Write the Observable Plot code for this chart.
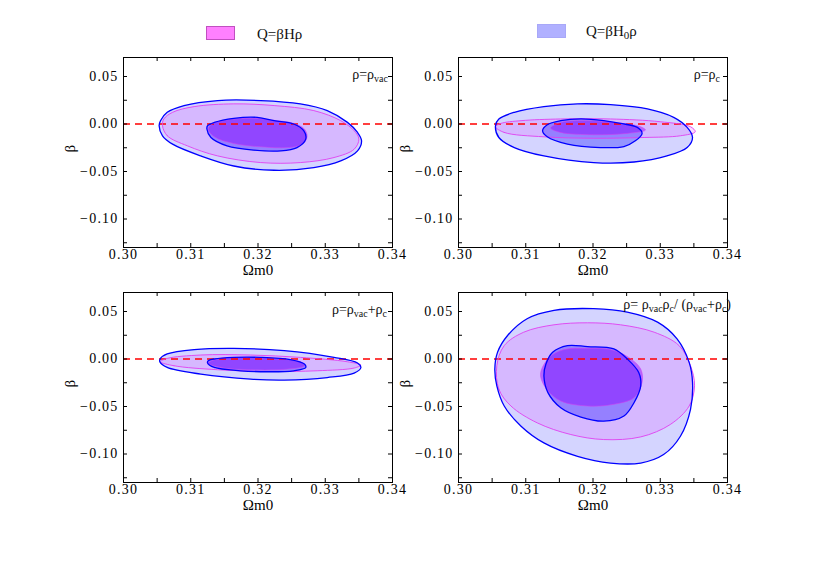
<!DOCTYPE html>
<html><head><meta charset="utf-8">
<script src="https://cdn.jsdelivr.net/npm/d3@7"></script>
<script src="https://cdn.jsdelivr.net/npm/@observablehq/plot@0.6"></script>
<style>
body{margin:0;background:#fff;}
#wrap{position:relative;width:817px;height:574px;overflow:hidden;font-family:"Liberation Serif","DejaVu Serif",serif;color:#111;}
.panel{position:absolute;}
.panel svg{overflow:visible;}
.panel g[aria-label="x-axis tick label"] text,.panel g[aria-label="y-axis tick label"] text{letter-spacing:1.2px;}
.note{position:absolute;font-size:14px;white-space:nowrap;line-height:14px;}
.note sub{font-size:10px;vertical-align:-3px;line-height:0;}
.sw{position:absolute;box-sizing:border-box;}
.lg{position:absolute;font-size:15px;white-space:nowrap;line-height:16px;}
.lg sub{font-size:11px;vertical-align:-3px;line-height:0;}
</style></head>
<body><div id="wrap"></div>
<script>
// ---- tick values ----
const xTicks = [0.30, 0.31, 0.32, 0.33, 0.34];
const xMinor = [0.305, 0.31, 0.315, 0.32, 0.325, 0.33, 0.335];
const yTicks = [-0.10, -0.05, 0.00, 0.05];
const yMinor = [-0.125, -0.10, -0.075, -0.05, -0.025, 0.00, 0.025, 0.05];
const xLabel = "Ωm0";
const yLabel = "β";

// ---- contours [Ωm0, β] ----  rho = rho_vac
const vacBlueOuter = [[.3053,-.0018],[.3058,-.0124],[.3073,-.0212],[.3115,-.0336],[.3164,-.0442],[.3224,-.0487],[.3283,-.0460],[.3323,-.0389],[.3348,-.0283],[.3354,-.0177],[.3348,-.0089],[.3333,.0017],[.3303,.0141],[.3263,.0212],[.3204,.0247],[.3140,.0247],[.3090,.0194],[.3065,.0123],[.3055,.0035]];
const vacPinkOuter = [[.3058,-.0018],[.3065,-.0124],[.3095,-.0230],[.3140,-.0336],[.3204,-.0406],[.3263,-.0406],[.3313,-.0353],[.3343,-.0265],[.3350,-.0159],[.3343,-.0071],[.3323,.0035],[.3283,.0141],[.3224,.0194],[.3164,.0212],[.3105,.0183],[.3073,.0123],[.3060,.0053]];
const vacBlueInner = [[.3124,-.0053],[.3130,-.0142],[.3154,-.0230],[.3194,-.0275],[.3234,-.0283],[.3258,-.0248],[.3271,-.0159],[.3268,-.0071],[.3253,.0000],[.3224,.0035],[.3199,.0070],[.3164,.0060],[.3135,.0017],[.3125,-.0018]];
const vacPinkInner = [[.3126,-.0053],[.3135,-.0135],[.3164,-.0205],[.3204,-.0240],[.3244,-.0248],[.3266,-.0212],[.3273,-.0135],[.3269,-.0053],[.3253,.0006],[.3219,.0042],[.3190,.0060],[.3154,.0042],[.3132,.0000]];
// rho = rho_c
const cBlueOuter = [[.3055,-.0018],[.3060,-.0142],[.3083,-.0248],[.3127,-.0336],[.3201,-.0406],[.3261,-.0400],[.3310,-.0336],[.3340,-.0248],[.3348,-.0142],[.3340,-.0036],[.3320,.0070],[.3281,.0159],[.3226,.0204],[.3177,.0212],[.3127,.0183],[.3083,.0123],[.3060,.0053]];
const cPinkOuter = [[.3055,-.0028],[.3068,-.0089],[.3127,-.0135],[.3201,-.0150],[.3276,-.0142],[.3330,-.0124],[.3352,-.0082],[.3345,-.0029],[.3300,.0024],[.3226,.0053],[.3152,.0053],[.3093,.0035],[.3063,.0006]];
const cBlueInner = [[.3125,-.0071],[.3132,-.0135],[.3162,-.0212],[.3211,-.0248],[.3246,-.0237],[.3263,-.0177],[.3273,-.0099],[.3266,-.0036],[.3241,.0006],[.3216,.0035],[.3182,.0053],[.3152,.0035],[.3132,-.0007]];
const cPinkInner = [[.3137,-.0042],[.3152,-.0089],[.3201,-.0113],[.3251,-.0099],[.3278,-.0064],[.3271,-.0029],[.3231,.0017],[.3192,.0035],[.3152,.0017]];
// rho = rho_vac + rho_c
const sumBlueOuter = [[.3054,-.0029],[.3065,-.0089],[.3115,-.0159],[.3189,-.0212],[.3239,-.0222],[.3303,-.0195],[.3343,-.0148],[.3353,-.0089],[.3348,-.0042],[.3313,.0017],[.3239,.0088],[.3164,.0112],[.3105,.0099],[.3065,.0053],[.3055,.0006]];
const sumPinkOuter = [[.3055,-.0029],[.3075,-.0071],[.3140,-.0113],[.3214,-.0131],[.3288,-.0124],[.3343,-.0095],[.3353,-.0064],[.3333,-.0029],[.3263,.0017],[.3189,.0042],[.3115,.0042],[.3065,.0006]];
const sumBlueInner = [[.3125,-.0042],[.3135,-.0089],[.3174,-.0124],[.3214,-.0134],[.3253,-.0124],[.3271,-.0089],[.3269,-.0053],[.3248,-.0007],[.3204,.0017],[.3164,.0017],[.3135,.0000],[.3126,-.0018]];
const sumPinkInner = [[.3126,-.0042],[.3145,-.0089],[.3189,-.0113],[.3244,-.0106],[.3269,-.0071],[.3263,-.0029],[.3224,.0006],[.3174,.0017],[.3140,.0000]];
// rho = rho_vac rho_c / (rho_vac + rho_c)
const harmBlueOuter = [[.3054,-.0106],[.3057,-.0283],[.3068,-.0495],[.3093,-.0707],[.3127,-.0883],[.3177,-.1024],[.3226,-.1095],[.3271,-.1095],[.3305,-.1006],[.3330,-.0813],[.3345,-.0530],[.3348,-.0248],[.3343,-.0036],[.3325,.0212],[.3296,.0388],[.3251,.0494],[.3201,.0530],[.3142,.0512],[.3102,.0424],[.3073,.0247],[.3058,.0070]];
const harmPinkOuter = [[.3057,-.0071],[.3060,-.0318],[.3078,-.0495],[.3117,-.0672],[.3167,-.0795],[.3216,-.0848],[.3271,-.0820],[.3315,-.0689],[.3343,-.0495],[.3351,-.0283],[.3345,-.0071],[.3328,.0141],[.3291,.0282],[.3241,.0360],[.3192,.0381],[.3142,.0360],[.3097,.0282],[.3068,.0141]];
const harmBlueInner = [[.3127,-.0177],[.3133,-.0354],[.3152,-.0513],[.3182,-.0611],[.3216,-.0654],[.3246,-.0600],[.3261,-.0460],[.3271,-.0283],[.3268,-.0142],[.3251,.0000],[.3231,.0106],[.3192,.0130],[.3162,.0141],[.3140,.0070],[.3130,-.0053]];
const harmPinkInner = [[.3122,-.0159],[.3131,-.0318],[.3152,-.0442],[.3192,-.0495],[.3231,-.0477],[.3261,-.0407],[.3273,-.0248],[.3271,-.0106],[.3253,.0017],[.3226,.0099],[.3192,.0112],[.3157,.0099],[.3135,.0017]];

const panels = [
  {left:60, top:40, bo:vacBlueOuter, po:vacPinkOuter, bi:vacBlueInner, pi:vacPinkInner,
   note:'ρ=ρ<sub>vac</sub>', nr:429, nt:68},
  {left:395, top:40, bo:cBlueOuter, po:cPinkOuter, bi:cBlueInner, pi:cPinkInner,
   note:'ρ=ρ<sub>c</sub>', nr:97, nt:68},
  {left:60, top:275, bo:sumBlueOuter, po:sumPinkOuter, bi:sumBlueInner, pi:sumPinkInner,
   note:'ρ=ρ<sub>vac</sub>+ρ<sub>c</sub>', nr:430, nt:303},
  {left:395, top:275, bo:harmBlueOuter, po:harmPinkOuter, bi:harmBlueInner, pi:harmPinkInner,
   note:'ρ= ρ<sub>vac</sub>ρ<sub>c</sub>/ (ρ<sub>vac</sub>+ρ<sub>c</sub>)', nr:86, nt:298}
];

const wrap = document.getElementById("wrap");
const X = d => d[0], Y = d => d[1];
const C = "catmull-rom-closed";
const FH = 190, FW = 269;

for (const p of panels) {
  const chart = Plot.plot({
    width: 345, height: 250,
    marginLeft: 63, marginRight: 13, marginTop: 17, marginBottom: 43,
    style: {fontFamily: '"Liberation Serif","DejaVu Serif",serif', fontSize: "14px", color: "#000", background: "transparent"},
    x: {domain: [0.30, 0.34]},
    y: {domain: [-0.13, 0.07]},
    marks: [
      Plot.line(p.bo, {x: X, y: Y, curve: C, fill: "#0000ff", fillOpacity: 0.17, stroke: "none"}),
      Plot.line(p.po, {x: X, y: Y, curve: C, fill: "rgb(230,60,255)", fillOpacity: 0.18, stroke: "none"}),
      Plot.line(p.bi, {x: X, y: Y, curve: C, fill: "#0000ff", fillOpacity: 0.3, stroke: "none"}),
      Plot.line(p.pi, {x: X, y: Y, curve: C, fill: "rgb(140,0,255)", fillOpacity: 0.45, stroke: "none"}),
      Plot.ruleY([0], {stroke: "#ff0000", strokeWidth: 1.3, strokeDasharray: "7,5"}),
      Plot.line(p.po, {x: X, y: Y, curve: C, fill: "none", stroke: "#e040f0", strokeWidth: 0.9}),
      Plot.line(p.pi, {x: X, y: Y, curve: C, fill: "none", stroke: "#d040f0", strokeWidth: 0.8, strokeOpacity: 0.7}),
      Plot.line(p.bo, {x: X, y: Y, curve: C, fill: "none", stroke: "#0000ff", strokeWidth: 1.3}),
      Plot.line(p.bi, {x: X, y: Y, curve: C, fill: "none", stroke: "#0000ff", strokeWidth: 1.3}),
      Plot.frame({stroke: "#000", strokeWidth: 1}),
      Plot.tickX(xMinor, {x: d => d, insetTop: FH - 4, stroke: "#000"}),
      Plot.tickX(xMinor, {x: d => d, insetBottom: FH - 4, stroke: "#000"}),
      Plot.tickY(yMinor, {y: d => d, insetRight: FW - 4, stroke: "#000"}),
      Plot.tickY(yMinor, {y: d => d, insetLeft: FW - 4, stroke: "#000"}),
      Plot.axisX({ticks: xTicks, anchor: "bottom", tickSize: 0, tickPadding: 2, tickFormat: d => d.toFixed(2), label: null, fontSize: 14}),
      Plot.axisY({ticks: yTicks, anchor: "left", tickSize: 0, tickPadding: 5, tickFormat: d3.format(".2f"), label: null, fontSize: 14}),
      Plot.text([xLabel], {text: d => d, frameAnchor: "bottom", dy: 27, fontSize: 15}),
      Plot.text([yLabel], {text: d => d, frameAnchor: "left", dx: -53, rotate: -90, fontSize: 15})
    ]
  });
  const div = document.createElement("div");
  div.className = "panel";
  div.style.left = p.left + "px";
  div.style.top = p.top + "px";
  div.appendChild(chart);
  wrap.appendChild(div);

  const n = document.createElement("div");
  n.className = "note";
  n.innerHTML = p.note;
  n.style.right = p.nr + "px";
  n.style.top = p.nt + "px";
  wrap.appendChild(n);
}

// legend
const legendItems = [
  {label: 'Q=βHρ', fill: "#ff80ff", border: "#c050c0", sl: 206, st: 26, tl: 257, tt: 26},
  {label: 'Q=βH<sub>0</sub>ρ', fill: "#b0b0ff", border: "#a8a8f8", sl: 537, st: 24, tl: 586, tt: 23}
];
for (const it of legendItems) {
  const s = document.createElement("div");
  s.className = "sw";
  Object.assign(s.style, {left: it.sl + "px", top: it.st + "px", width: "29px", height: "14px", background: it.fill, border: "1px solid " + it.border});
  wrap.appendChild(s);
  const t = document.createElement("div");
  t.className = "lg";
  t.innerHTML = it.label;
  t.style.left = it.tl + "px";
  t.style.top = it.tt + "px";
  wrap.appendChild(t);
}
</script></body></html>
